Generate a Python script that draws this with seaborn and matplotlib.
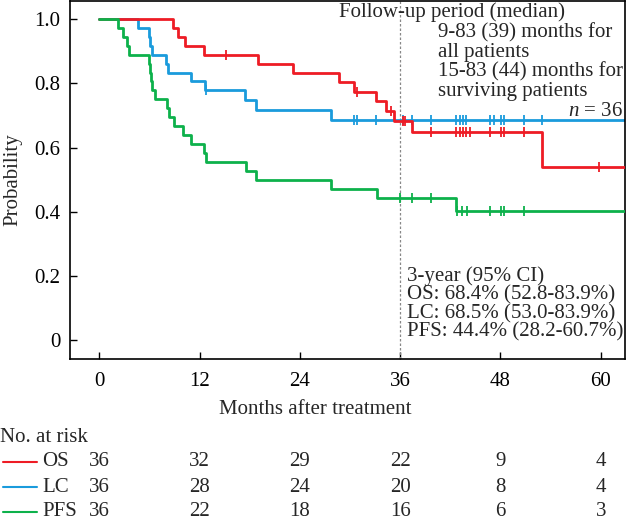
import numpy as np
import matplotlib
matplotlib.use("Agg")
import matplotlib.pyplot as plt
import seaborn as sns
from matplotlib.lines import Line2D
from matplotlib.transforms import blended_transform_factory

# ---------------- data ----------------
os_times = [0, 8.8, 9.4, 10.3, 12.5, 19.0, 23.2, 28.7, 30.5, 33.1, 34.3, 35.3, 37.4, 53.0, 83]
os_surv = [1.0, 0.972, 0.944, 0.917, 0.889, 0.860, 0.831, 0.803, 0.774, 0.744, 0.715, 0.684, 0.648, 0.540, 0.540]
os_cens = [15.2, 30.8, 34.9, 36.3, 36.6, 39.7, 42.7, 43.1, 43.5, 43.9, 44.3, 46.8, 48.1, 48.4, 50.8, 59.8]

lc_times = [0, 4.65, 5.9, 6.1, 6.3, 8.0, 8.2, 11.0, 12.6, 17.4, 18.7, 27.7, 83]
lc_surv = [1.0, 0.972, 0.944, 0.917, 0.889, 0.861, 0.833, 0.806, 0.778, 0.747, 0.716, 0.685, 0.685]
lc_cens = [12.8, 30.5, 30.8, 33.1, 36.3, 37.4, 39.7, 42.7, 43.1, 43.5, 43.9, 46.8, 47.2, 48.1, 48.4, 50.8, 53.0]

pfs_times = [0, 2.3, 2.85, 3.3, 3.5, 6.0, 6.1, 6.2, 6.3, 6.65, 8.05, 8.3, 9.0, 10.0, 11.0,
             12.55, 12.75, 17.5, 18.8, 27.7, 33.2, 42.7, 83]
pfs_surv = [1.0, 0.972, 0.944, 0.917, 0.889, 0.861, 0.833, 0.806, 0.778, 0.750, 0.722, 0.694, 0.667,
            0.639, 0.611, 0.583, 0.556, 0.528, 0.500, 0.472, 0.444, 0.404, 0.404]
pfs_cens = [36.0, 37.4, 39.7, 42.8, 43.4, 44.0, 46.8, 48.1, 48.4, 50.8]

series_names = ["OS", "LC", "PFS"]
risk_times = [0, 12, 24, 36, 48, 60]
risk_os = [36, 32, 29, 22, 9, 4]
risk_lc = [36, 28, 24, 20, 8, 4]
risk_pfs = [36, 22, 18, 16, 6, 3]

x_ticks = [0, 12, 24, 36, 48, 60]
y_ticks = [0, 0.2, 0.4, 0.6, 0.8, 1.0]
y_ticklabels = ["0", "0.2", "0.4", "0.6", "0.8", "1.0"]

followup_title = "Follow-up period (median)"
followup_lines = ["9-83 (39) months for", "all patients", "15-83 (44) months for", "surviving patients"]
ci_lines = ["3-year (95% CI)", "OS: 68.4% (52.8-83.9%)", "LC: 68.5% (53.0-83.9%)",
            "PFS: 44.4% (28.2-60.7%)"]

# ---------------- style ----------------
sns.set_style("ticks")
plt.rcParams["font.family"] = ["Liberation Serif", "DejaVu Serif"]
plt.rcParams["mathtext.fontset"] = "custom"
plt.rcParams["mathtext.rm"] = "Liberation Serif"
plt.rcParams["mathtext.it"] = "Liberation Serif:italic"

RED = "#EE1C25"
BLUE = "#1A9BDC"
GREEN = "#0DB14B"
FS = 15

W, H = 629, 520
fig = plt.figure(figsize=(W / 100, H / 100), dpi=100)
L, R, T, B = 70, 625, 1, 359
ax = fig.add_axes([L / W, 1 - B / H, (R - L) / W, (B - T) / H])

curves = [
    (lc_times, lc_surv, lc_cens, BLUE, 2),
    (os_times, os_surv, os_cens, RED, 3),
    (pfs_times, pfs_surv, pfs_cens, GREEN, 4),
]
for times, surv, cens, color, z in curves:
    sns.lineplot(x=times, y=surv, drawstyle="steps-post", color=color, lw=2.0,
                 estimator=None, sort=False, ax=ax, zorder=z)
    t_arr = np.asarray(times)
    s_arr = np.asarray(surv)
    idx = np.searchsorted(t_arr, np.asarray(cens), side="right") - 1
    ax.plot(cens, s_arr[idx], ls="", marker="|", ms=7, mew=1.3, color=color, zorder=z)

ax.axvline(36, color="#888888", ls=(0, (2, 1.6)), lw=0.9, zorder=1)

ax.set_xlim(-3.5, 62.9)
ax.set_ylim(-0.058, 1.056)
ax.set_xticks(x_ticks)
ax.set_xticklabels([str(t) for t in x_ticks])
ax.set_yticks(y_ticks)
ax.set_yticklabels(y_ticklabels)
ax.tick_params(direction="in", length=5, width=1.0, labelsize=FS, colors="black")
ax.tick_params(axis="y", pad=7)
ax.tick_params(axis="x", pad=9)
for sp in ax.spines.values():
    sp.set_visible(True)
    sp.set_color("black")
    sp.set_linewidth(1.2)

ax.set_xlabel("Months after treatment", fontsize=FS)
ax.xaxis.set_label_coords((315 - L) / (R - L), (B - 409) / (B - T))
ax.xaxis.label.set_va("center")
ax.set_ylabel("Probability", fontsize=FS)
ax.yaxis.set_label_coords((13 - L) / (R - L), 0.5)
ax.yaxis.label.set_va("center")


def fx(px):
    return px / W


def fy(py):
    return 1 - py / H


# annotations
fig.text(fx(339), fy(12), followup_title, fontsize=FS, ha="left", va="center")
fig.text(fx(438), fy(62), "\n".join(followup_lines), fontsize=FS, ha="left", va="center",
         linespacing=1.03)
fig.text(fx(623), fy(112), "$n$ = 36", fontsize=FS, ha="right", va="center")
fig.text(fx(407), fy(304), "\n".join(ci_lines), fontsize=FS, ha="left", va="center",
         linespacing=0.94)

# number at risk table
trans = blended_transform_factory(ax.transData, fig.transFigure)
fig.text(fx(0), fy(438), "No. at risk", fontsize=FS, ha="left", va="center")
rows = [(risk_os, RED), (risk_lc, BLUE), (risk_pfs, GREEN)]
for i, ((vals, color), name) in enumerate(zip(rows, series_names)):
    yy = fy(462 + 25 * i)
    fig.add_artist(Line2D([fx(3), fx(37)], [yy, yy], color=color, lw=1.5))
    fig.text(fx(42), yy, name, fontsize=FS, ha="left", va="center")
    for t, v in zip(risk_times, vals):
        fig.text(t, yy, str(v), fontsize=FS, ha="center", va="center", transform=trans)

fig.savefig("out.png", dpi=100)
